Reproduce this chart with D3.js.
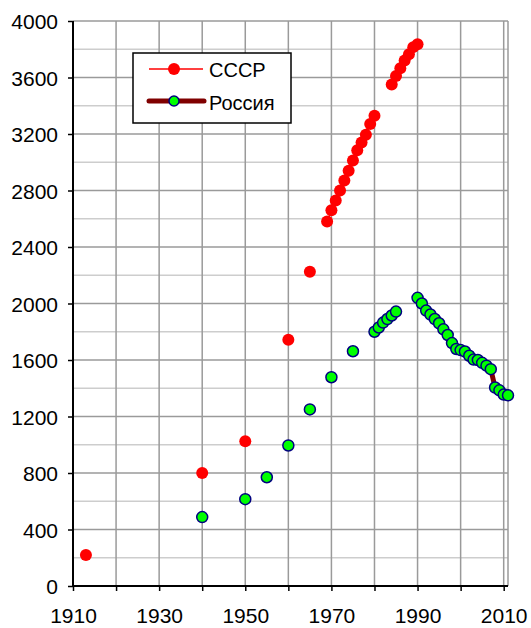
<!DOCTYPE html>
<html lang="ru">
<head>
    <meta charset="UTF-8">
    <title>СССР / Россия</title>
    <script src="https://cdnjs.cloudflare.com/ajax/libs/d3/7.8.5/d3.min.js"></script>
    <style type="text/css">
        body {
            margin: 0;
            background: #fff;
        }
        text {
            font-family: "Liberation Sans", Arial, sans-serif;
            font-size: 20px;
            fill: #000;
        }
        .tick text {
            font-size: 21px;
        }
    </style>
</head>
<body>
    <div id="chart"></div>
    <script type="text/javascript">

        // Data
        var ussrYears = [1913, 1940, 1950, 1960, 1965, 1969, 1970, 1971, 1972, 1973, 1974, 1975, 1976, 1977, 1978, 1979, 1980,
                         1984, 1985, 1986, 1987, 1988, 1989, 1990];
        var ussrValues = [220, 800, 1024, 1744, 2225, 2580, 2660, 2730, 2800, 2870, 2940, 3012, 3085, 3140, 3195, 3270, 3330,
                          3550, 3610, 3665, 3720, 3765, 3815, 3835];

        var rusYears = [1940, 1950, 1955, 1960, 1965, 1970, 1975, 1980, 1981, 1982, 1983, 1984, 1985,
                        1990, 1991, 1992, 1993, 1994, 1995, 1996, 1997, 1998, 1999, 2000,
                        2001, 2002, 2003, 2004, 2005, 2006, 2007, 2008, 2009, 2010, 2011];
        var rusValues = [488, 615, 770, 995, 1250, 1478, 1662, 1800, 1830, 1865, 1890, 1915, 1943,
                         2040, 2000, 1950, 1922, 1890, 1860, 1817, 1777, 1720, 1678, 1670,
                         1660, 1630, 1603, 1600, 1580, 1560, 1535, 1405, 1385, 1355, 1350];

        var xTickLabels = [1910, 1930, 1950, 1970, 1990, 2010];
        var xGridYears = [1910, 1920, 1930, 1940, 1950, 1960, 1970, 1980, 1990, 2000, 2010];
        var yTickLabels = [0, 400, 800, 1200, 1600, 2000, 2400, 2800, 3200, 3600, 4000];
        var yMinorValues = [200, 600, 1000, 1400, 1800, 2200, 2600, 3000, 3400, 3800];

        var seriesNames = ["СССР", "Россия"];

        // Size variables
        var w = 531;
        var h = 628;
        var plotLeft = 73, plotRight = 508, plotTop = 21, plotBottom = 586;

        var svg = d3.select("#chart")
        .append("svg")
        .attr("width", w)
        .attr("height", h);

        var xScale = d3.scaleLinear()
        .domain([1910, 2011])
        .range([plotLeft, plotRight]);

        var yScale = d3.scaleLinear()
        .domain([0, 4000])
        .range([plotBottom, plotTop]);

        // Grid lines
        svg.append("g")
        .selectAll("line")
        .data(yMinorValues)
        .enter()
        .append("line")
        .attr("x1", plotLeft).attr("x2", plotRight)
        .attr("y1", function(d) {return yScale(d);})
        .attr("y2", function(d) {return yScale(d);})
        .attr("stroke", "#cdcdcd")
        .attr("stroke-width", 1.5);

        svg.append("g")
        .selectAll("line")
        .data(yTickLabels.slice(1))
        .enter()
        .append("line")
        .attr("x1", plotLeft).attr("x2", plotRight)
        .attr("y1", function(d) {return yScale(d);})
        .attr("y2", function(d) {return yScale(d);})
        .attr("stroke", "#9a9a9a")
        .attr("stroke-width", 1.5);

        svg.append("g")
        .selectAll("line")
        .data(xGridYears.slice(1).concat([2011]))
        .enter()
        .append("line")
        .attr("x1", function(d) {return xScale(d);})
        .attr("x2", function(d) {return xScale(d);})
        .attr("y1", plotTop).attr("y2", plotBottom)
        .attr("stroke", "#9a9a9a")
        .attr("stroke-width", 1.5);

        // Axes
        var xAxis = d3.axisBottom(xScale)
        .tickValues(xGridYears)
        .tickSize(5)
        .tickFormat(function(d) {return xTickLabels.indexOf(d) >= 0 ? d : "";});

        var yAxis = d3.axisLeft(yScale)
        .tickValues(yTickLabels)
        .tickSize(5)
        .tickFormat(function(d) {return d;});

        var gx = svg.append("g")
        .attr("transform", "translate(0," + plotBottom + ")")
        .call(xAxis);

        var gy = svg.append("g")
        .attr("transform", "translate(" + plotLeft + ",0)")
        .call(yAxis);

        [gx, gy].forEach(function(g) {
            g.attr("font-family", null).attr("font-size", null);
            g.select(".domain").attr("stroke", "#000").attr("stroke-width", 2);
            g.selectAll(".tick line").attr("stroke", "#000").attr("stroke-width", 1.5);
            g.selectAll(".tick text").attr("fill", "#000");
        });
        gx.select(".domain").attr("d", "M" + plotLeft + ",0H" + plotRight);
        gy.select(".domain").attr("d", "M0," + plotTop + "V" + plotBottom);
        gx.selectAll(".tick text").attr("y", 22).attr("dy", "0.71em");
        gy.selectAll(".tick text").attr("x", -15).attr("dy", "0.36em");

        // Build point arrays; null where years are not consecutive
        function toPoints(years, values) {
            var pts = [];
            years.forEach(function(y, i) {
                if (i > 0 && y - years[i - 1] > 1) pts.push(null);
                pts.push({year: y, value: values[i]});
            });
            return pts;
        }

        var line = d3.line()
        .defined(function(d) {return d !== null;})
        .x(function(d) {return xScale(d.year);})
        .y(function(d) {return yScale(d.value);});

        var ussrPts = toPoints(ussrYears, ussrValues);
        var rusPts = toPoints(rusYears, rusValues);

        // СССР
        svg.append("path")
        .datum(ussrPts)
        .attr("d", line)
        .attr("fill", "none")
        .attr("stroke", "#ff0000")
        .attr("stroke-width", 1.5);

        svg.append("g")
        .selectAll("circle")
        .data(ussrPts.filter(function(d) {return d;}))
        .enter()
        .append("circle")
        .attr("cx", function(d) {return xScale(d.year);})
        .attr("cy", function(d) {return yScale(d.value);})
        .attr("r", 6)
        .attr("fill", "#ff0000");

        // Россия
        svg.append("path")
        .datum(rusPts)
        .attr("d", line)
        .attr("fill", "none")
        .attr("stroke", "#800000")
        .attr("stroke-width", 5)
        .attr("stroke-linecap", "round");

        svg.append("g")
        .selectAll("circle")
        .data(rusPts.filter(function(d) {return d;}))
        .enter()
        .append("circle")
        .attr("cx", function(d) {return xScale(d.year);})
        .attr("cy", function(d) {return yScale(d.value);})
        .attr("r", 5.5)
        .attr("fill", "#00ff00")
        .attr("stroke", "#000080")
        .attr("stroke-width", 1.5);

        // Legend
        var legend = svg.append("g");

        legend.append("rect")
        .attr("x", 133).attr("y", 53)
        .attr("width", 158).attr("height", 70)
        .attr("fill", "#fff")
        .attr("stroke", "#000")
        .attr("stroke-width", 1.5);

        legend.append("line")
        .attr("x1", 149).attr("x2", 203)
        .attr("y1", 69).attr("y2", 69)
        .attr("stroke", "#ff0000")
        .attr("stroke-width", 1.5);
        legend.append("circle")
        .attr("cx", 174).attr("cy", 69).attr("r", 6)
        .attr("fill", "#ff0000");

        legend.append("line")
        .attr("x1", 149).attr("x2", 204)
        .attr("y1", 101).attr("y2", 101)
        .attr("stroke", "#800000")
        .attr("stroke-width", 5)
        .attr("stroke-linecap", "round");
        legend.append("circle")
        .attr("cx", 174).attr("cy", 101).attr("r", 5)
        .attr("fill", "#00ff00")
        .attr("stroke", "#000080")
        .attr("stroke-width", 1.5);

        legend.selectAll("text.lbl")
        .data(seriesNames)
        .enter()
        .append("text")
        .attr("class", "lbl")
        .attr("x", 209)
        .attr("y", function(d, i) {return 77 + i * 33;})
        .text(function(d) {return d;});

    </script>
</body>
</html>
